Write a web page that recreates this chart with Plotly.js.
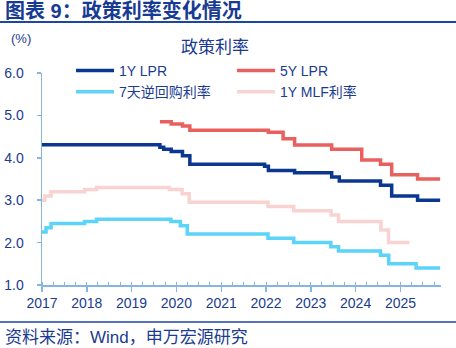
<!DOCTYPE html>
<html><head><meta charset="utf-8">
<script src="https://cdn.plot.ly/plotly-3.0.1.min.js"></script>
<style>html,body{margin:0;padding:0;background:#fff;} #chart{width:456px;height:348px;}</style>
</head><body><div id="chart"></div>
<script>
// ---- data ----
const lpr1Dates  = ['2017-01-01','2019-08-20','2019-09-20','2019-11-20','2020-02-20','2020-04-20','2021-12-20','2022-01-20','2022-08-22','2023-06-20','2023-08-21','2024-07-22','2024-10-21','2025-05-20','2025-11-20'];
const lpr1Values = [4.31,4.25,4.20,4.15,4.05,3.85,3.80,3.70,3.65,3.55,3.45,3.35,3.10,3.00,3.00];

const lpr5Dates  = ['2019-08-20','2019-11-20','2020-02-20','2020-04-20','2022-01-20','2022-05-20','2022-08-22','2023-06-20','2024-02-20','2024-07-22','2024-10-21','2025-05-20','2025-11-20'];
const lpr5Values = [4.85,4.80,4.75,4.65,4.60,4.45,4.30,4.20,3.95,3.85,3.60,3.50,3.50];

const repoDates  = ['2017-01-01','2017-02-03','2017-03-16','2017-12-14','2018-03-22','2019-11-18','2020-02-03','2020-03-30','2022-01-17','2022-08-15','2023-06-13','2023-08-15','2024-07-22','2024-09-27','2025-05-08','2025-11-20'];
const repoValues = [2.25,2.35,2.45,2.50,2.55,2.50,2.40,2.20,2.10,2.00,1.90,1.80,1.70,1.50,1.40,1.40];

const mlfDates   = ['2017-01-01','2017-01-24','2017-03-16','2017-12-14','2018-03-22','2019-11-05','2020-02-17','2020-04-15','2022-01-17','2022-08-15','2023-06-15','2023-08-15','2024-07-25','2024-09-25','2025-03-15'];
const mlfValues  = [3.00,3.10,3.20,3.25,3.30,3.25,3.15,2.95,2.85,2.75,2.65,2.50,2.30,2.00,2.00];

const seriesNames = ['1Y LPR','5Y LPR','7天逆回购利率','1Y MLF利率'];
const yTickVals = [1,2,3,4,5,6];

// ---- styling / geometry ----
const W = 456, H = 348;
const M = {l:42, r:15, t:73, b:63};
const PW = W - M.l - M.r, PH = H - M.t - M.b;
const px = x => (x - M.l) / PW;
const py = y => (H - M.b - y) / PH;

const navy = '#1a3b8f';
const axisCol = '#86b5df';
const FONT = '"Liberation Sans", Arial, "Noto Sans CJK SC", sans-serif';
const CJK = '"Noto Sans CJK SC", "Liberation Sans", sans-serif';

function tr(name, x, y, color){
  return {type:'scatter', mode:'lines', name:name, x:x, y:y,
    line:{color:color, width:3.5, shape:'hv'}, hoverinfo:'skip'};
}
const data = [
  tr(seriesNames[0], lpr1Dates, lpr1Values, '#0c3791'),
  tr(seriesNames[1], lpr5Dates, lpr5Values, '#e8615f'),
  tr(seriesNames[2], repoDates, repoValues, '#5cd3f8'),
  tr(seriesNames[3], mlfDates, mlfValues, '#f9d3d2')
];

const layout = {
  width: W, height: H, margin: M,
  paper_bgcolor:'#fff', plot_bgcolor:'#fff',
  font:{family:FONT, color:navy, size:14},
  showlegend:true,
  legend:{orientation:'h', x:px(71), xanchor:'left', y:py(55), yanchor:'top',
    entrywidth:108, entrywidthmode:'pixels', itemwidth:38,
    font:{family:FONT, size:14, color:navy}, bgcolor:'rgba(0,0,0,0)', traceorder:'normal',
    tracegroupgap:0},
  xaxis:{type:'date', range:['2017-01-01','2025-11-27'],
    tick0:'2017-01-01', dtick:'M12', tickformat:'%Y',
    showline:true, linecolor:axisCol, linewidth:1.5,
    ticks:'outside', ticklen:5, tickcolor:axisCol, tickwidth:1.5,
    minor:{dtick:'M3', ticks:'inside', ticklen:3, tickcolor:axisCol, tickwidth:1},
    showgrid:false, zeroline:false,
    tickfont:{family:FONT, size:14, color:navy}},
  yaxis:{range:[1,6], tickvals:yTickVals, tickformat:'.1f',
    showline:true, linecolor:axisCol, linewidth:1.5,
    ticks:'outside', ticklen:4, tickcolor:axisCol, tickwidth:1.5,
    ticklabelstandoff:10,
    showgrid:false, zeroline:false,
    tickfont:{family:FONT, size:14, color:navy}},
  annotations:[
    {text:'<b>图表 9：政策利率变化情况</b>', xref:'paper', yref:'paper', x:px(3), y:py(11),
      xanchor:'left', yanchor:'middle', showarrow:false, font:{family:FONT, size:20, color:'#173a92'}},
    {text:'(%)', xref:'paper', yref:'paper', x:px(9), y:py(39),
      xanchor:'left', yanchor:'middle', showarrow:false, font:{family:FONT, size:13, color:navy}},
    {text:'政策利率', xref:'paper', yref:'paper', x:px(215), y:py(45),
      xanchor:'center', yanchor:'middle', showarrow:false, font:{family:CJK, size:17, color:navy}},
    {text:'资料来源：Wind，申万宏源研究', xref:'paper', yref:'paper', x:px(3), y:py(337),
      xanchor:'left', yanchor:'middle', showarrow:false, font:{family:FONT, size:17, color:navy}}
  ],
  shapes:[
    {type:'line', xref:'paper', yref:'paper', x0:px(0), x1:px(W), y0:py(22), y1:py(22),
      line:{color:'#1c46a6', width:2}},
    {type:'line', xref:'paper', yref:'paper', x0:px(0), x1:px(W), y0:py(322), y1:py(322),
      line:{color:'#1c46a6', width:1.5}}
  ]
};

Plotly.newPlot('chart', data, layout, {staticPlot:true, displayModeBar:false});
</script>
</body></html>
